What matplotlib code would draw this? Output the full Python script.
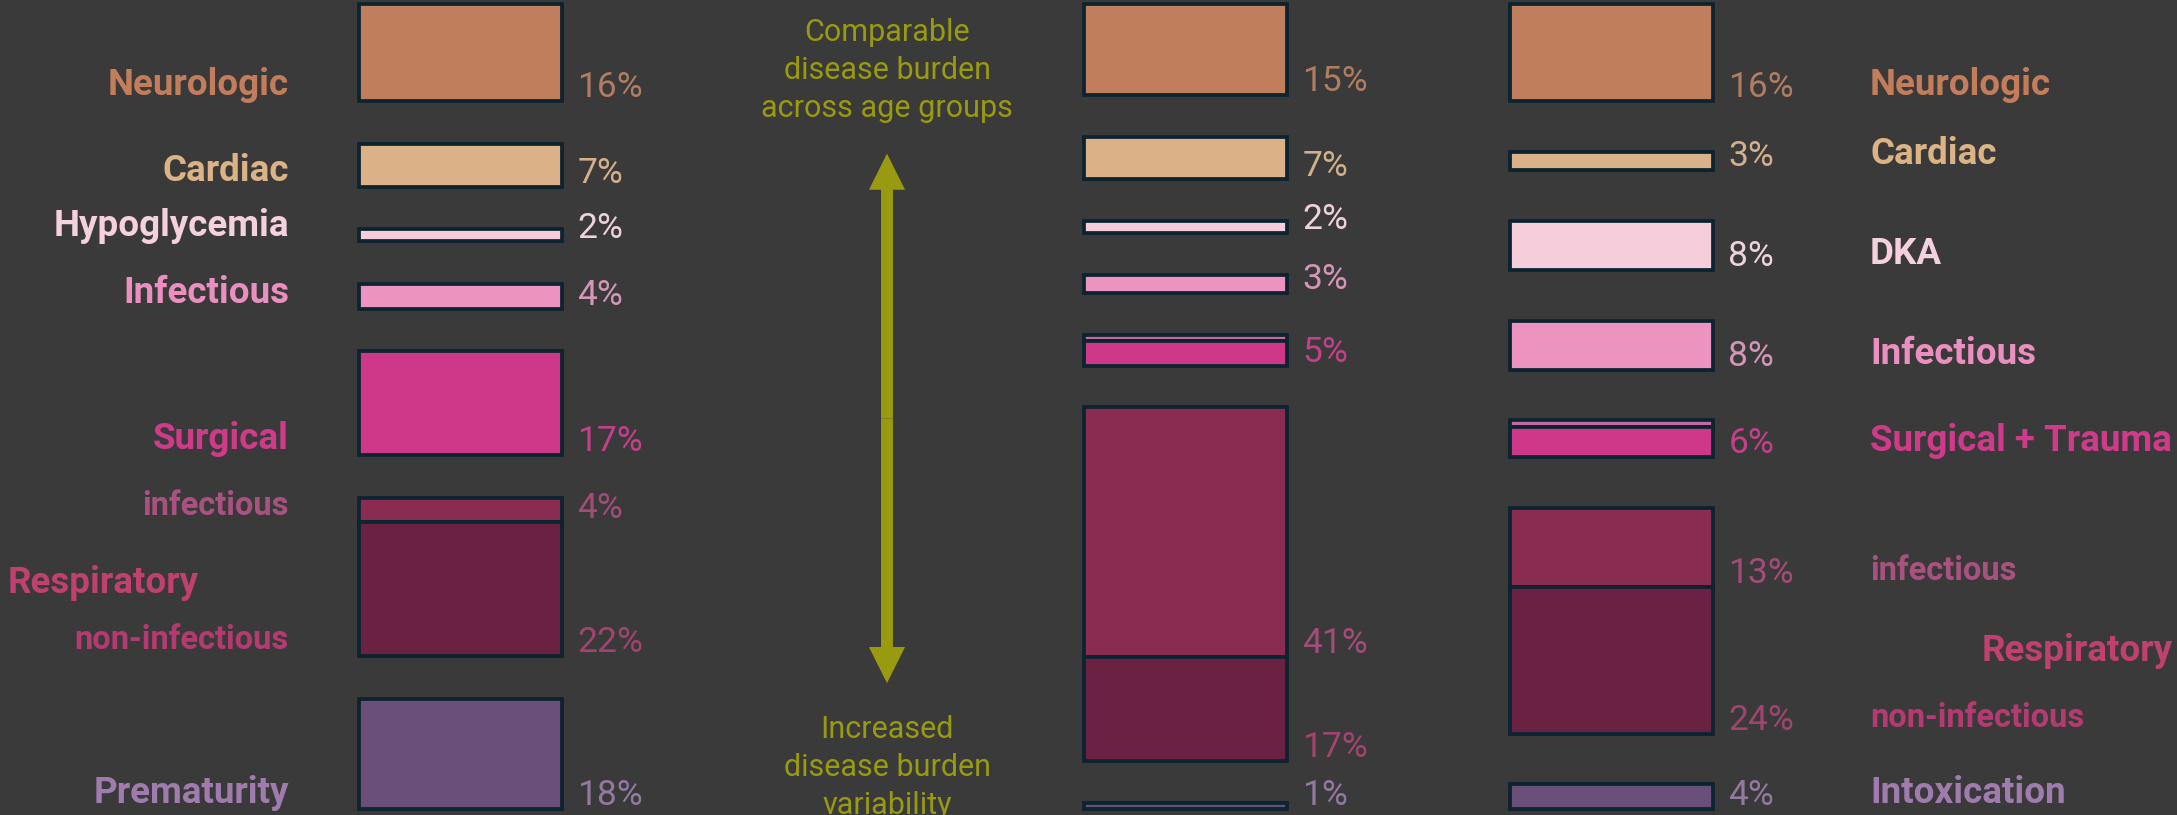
import matplotlib
matplotlib.use("Agg")
import matplotlib.pyplot as plt
from matplotlib.patches import ArrowStyle

# --- data: three age groups, each a column of stacked category blocks ---
left_values = [16, 7, 2, 4, 17, 4, 22, 18]
left_keys = ["neuro", "cardiac", "hypo", "infect", "surg", "resp_inf", "resp_non", "prem"]
left_groups = [0, 1, 2, 3, 4, 5, 5, 6]
left_pct = ["16%", "7%", "2%", "4%", "17%", "4%", "22%", "18%"]
left_names = ["Neurologic", "Cardiac", "Hypoglycemia", "Infectious", "Surgical",
              "infectious", "non-infectious", "Prematurity"]

mid_values = [15, 7, 2, 3, 1, 4, 41, 17, 1]
mid_keys = ["neuro", "cardiac", "hypo", "infect", "trauma", "surg", "resp_inf", "resp_non", "prem"]
mid_groups = [0, 1, 2, 3, 4, 4, 5, 5, 6]
mid_pct = ["15%", "7%", "2%", "3%", "", "5%", "41%", "17%", "1%"]

right_values = [16, 3, 8, 8, 1, 5, 13, 24, 4]
right_keys = ["neuro", "cardiac", "hypo", "infect", "trauma", "surg", "resp_inf", "resp_non", "prem"]
right_groups = [0, 1, 2, 3, 4, 4, 5, 5, 6]
right_pct = ["16%", "3%", "8%", "8%", "", "6%", "13%", "24%", "4%"]
right_names = ["Neurologic", "Cardiac", "DKA", "Infectious", "", "Surgical + Trauma",
               "infectious", "non-infectious", "Intoxication"]

top_note = "Comparable\ndisease burden\nacross age groups"
bottom_note = "Increased\ndisease burden\nvariability"

# --- styling ---
bg = "#3a3a3a"
outline = "#0c2330"
olive = "#9a9a10"
fills = {"neuro": "#c07e5d", "cardiac": "#dbb188", "hypo": "#f6cddb", "infect": "#ec93bf",
         "trauma": "#c56a9e", "surg": "#cf3788", "resp_inf": "#8a2b52",
         "resp_non": "#6b2142", "prem": "#6a4f7a"}
name_colors = {"neuro": "#c47d5b", "cardiac": "#dcb385", "hypo": "#f5d0df", "infect": "#ea8fbf",
               "surg": "#d03a8a", "resp_inf": "#a9527f", "resp_non": "#b53a72",
               "prem": "#a07cae", "trauma": "#d03a8a"}
pct_colors = {"neuro": "#b07c62", "cardiac": "#d2b08b", "hypo": "#eed2dd", "infect": "#d595b9",
              "surg": "#c4408a", "resp_inf": "#a24c79", "resp_non": "#a1446f",
              "prem": "#9378a0", "trauma": "#c4408a"}
resp_color = "#c0416f"

plt.rcParams["font.family"] = ["Roboto", "DejaVu Sans"]

W, H, DPI = 2177, 815, 100
SPAN = 132          # every column is spread over the same height
BAR_W = 203
PX_PER_UNIT = 6.1
Y_TOP = -0.59
NAME_SIZE = 26.5
SUB_SIZE = 23.5
PCT_SIZE = 25.5

fig = plt.figure(figsize=(W / DPI, H / DPI), dpi=DPI, facecolor=bg)
ax = fig.add_axes([0, 0, 1, 1])
ax.set_facecolor(bg)
ax.set_xlim(0, W)
ax.set_ylim(Y_TOP + H / PX_PER_UNIT, Y_TOP)
ax.axis("off")


def stack(values, groups):
    n_groups = groups[-1] + 1
    gap = (SPAN - sum(values)) / (n_groups - 1)
    bottoms = []
    y = 0
    for i, v in enumerate(values):
        if i > 0 and groups[i] != groups[i - 1]:
            y += gap
        bottoms.append(y)
        y += v
    return bottoms


def draw_column(xc, values, keys, groups, pct):
    bottoms = stack(values, groups)
    ax.bar([xc] * len(values), values, bottom=bottoms, width=BAR_W,
           color=[fills[k] for k in keys], edgecolor=outline, linewidth=2.7)
    for v, b, k, p in zip(values, bottoms, keys, pct):
        if p:
            ax.text(xc + BAR_W / 2 + 16, b + v - 2.2, p, color=pct_colors[k],
                    fontsize=PCT_SIZE, fontweight="normal", va="center", ha="left")
    return bottoms


lx, mx, rx = 460, 1185, 1611

lb = draw_column(lx, left_values, left_keys, left_groups, left_pct)
for v, b, k, name in zip(left_values, lb, left_keys, left_names):
    small = k in ("resp_inf", "resp_non")
    ax.text(lx - 171, b + v - 2.6, name, color=name_colors[k], ha="right", va="center",
            fontsize=SUB_SIZE if small else NAME_SIZE, fontweight="bold")
ax.text(199, (lb[5] + lb[6] + left_values[6]) / 2 + 1, "Respiratory", color=resp_color,
        ha="right", va="center", fontsize=NAME_SIZE, fontweight="bold")

draw_column(mx, mid_values, mid_keys, mid_groups, mid_pct)

rb = draw_column(rx, right_values, right_keys, right_groups, right_pct)
for v, b, k, name in zip(right_values, rb, right_keys, right_names):
    if not name:
        continue
    small = k in ("resp_inf", "resp_non")
    ax.text(rx + 259, b + v - 2.6, name, color=name_colors[k], ha="left", va="center",
            fontsize=SUB_SIZE if small else NAME_SIZE, fontweight="bold")
ax.text(2173, (rb[6] + rb[7] + right_values[7]) / 2 + 5, "Respiratory", color=resp_color,
        ha="right", va="center", fontsize=NAME_SIZE, fontweight="bold")

# --- middle annotation: double arrow with notes ---
ax_x = 887
ax.text(ax_x, 11.0, top_note, color=olive, ha="center", va="center", fontsize=22,
        linespacing=1.4)
ax.text(ax_x, 125.2, bottom_note, color=olive, ha="center", va="center", fontsize=22,
        linespacing=1.4)
mid_y = 68
arrow = ArrowStyle("simple", head_length=1.0, head_width=1.0, tail_width=0.33)
for tip in (24.6, 111.4):
    ax.annotate("", xy=(ax_x, tip), xytext=(ax_x, mid_y),
                arrowprops=dict(arrowstyle=arrow, mutation_scale=26, color=olive,
                                lw=0, shrinkA=0, shrinkB=0))

fig.savefig("out.png", dpi=DPI, facecolor=bg)
